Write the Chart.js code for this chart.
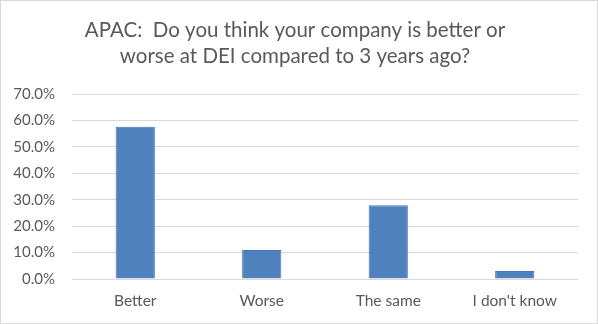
<!DOCTYPE html>
<html>
<head>
<meta charset="utf-8">
<script src="https://cdn.jsdelivr.net/npm/chart.js@4/dist/chart.umd.min.js"></script>
<style>
  html, body { margin: 0; padding: 0; background: #ffffff; }
  #wrap { position: relative; width: 598px; height: 324px; box-sizing: border-box; border: 1px solid #d9d9d9; }
  canvas { display: block; }
</style>
</head>
<body>
<div id="wrap"><canvas id="c" width="596" height="322"></canvas></div>
<script>
// Survey answers and their shares (percent of respondents)
const categories = ["Better", "Worse", "The same", "I don't know"];
const shares = [57.6, 11.0, 27.9, 3.0];
const titleLines = ["APAC:  Do you think your company is better or", "worse at DEI compared to 3 years ago?"];

const FONT = "Lato, 'Open Sans', sans-serif";
const TEXT = "#595959";

new Chart(document.getElementById("c"), {
  type: "bar",
  data: {
    labels: categories,
    datasets: [{
      data: shares,
      backgroundColor: "#4f81bd",
      borderColor: "#4472c4",
      borderWidth: 1,
      categoryPercentage: 1.0,
      barPercentage: 0.31
    }]
  },
  options: {
    responsive: false,
    animation: false,
    layout: { padding: { left: 11, right: 19, top: 0, bottom: 4 } },
    plugins: {
      legend: { display: false },
      tooltip: { enabled: false },
      title: {
        display: true,
        text: titleLines,
        color: TEXT,
        font: { family: FONT, size: 20.5, weight: "normal", lineHeight: 1.27 },
        padding: { top: 16, bottom: 25 }
      }
    },
    scales: {
      x: {
        grid: { display: false, drawTicks: false },
        border: { display: false },
        ticks: { color: TEXT, font: { family: FONT, size: 15.5 }, padding: 13 },
        afterFit: s => { s.height = 40; }
      },
      y: {
        min: 0,
        max: 70,
        border: { display: false },
        grid: { color: "#d9d9d9", lineWidth: 1, drawTicks: false },
        ticks: {
          stepSize: 10,
          color: TEXT,
          padding: 17,
          font: { family: FONT, size: 15 },
          callback: v => v.toFixed(1) + "%"
        },
        afterFit: s => { s.width = 60; }
      }
    }
  }
});
</script>
</body>
</html>
